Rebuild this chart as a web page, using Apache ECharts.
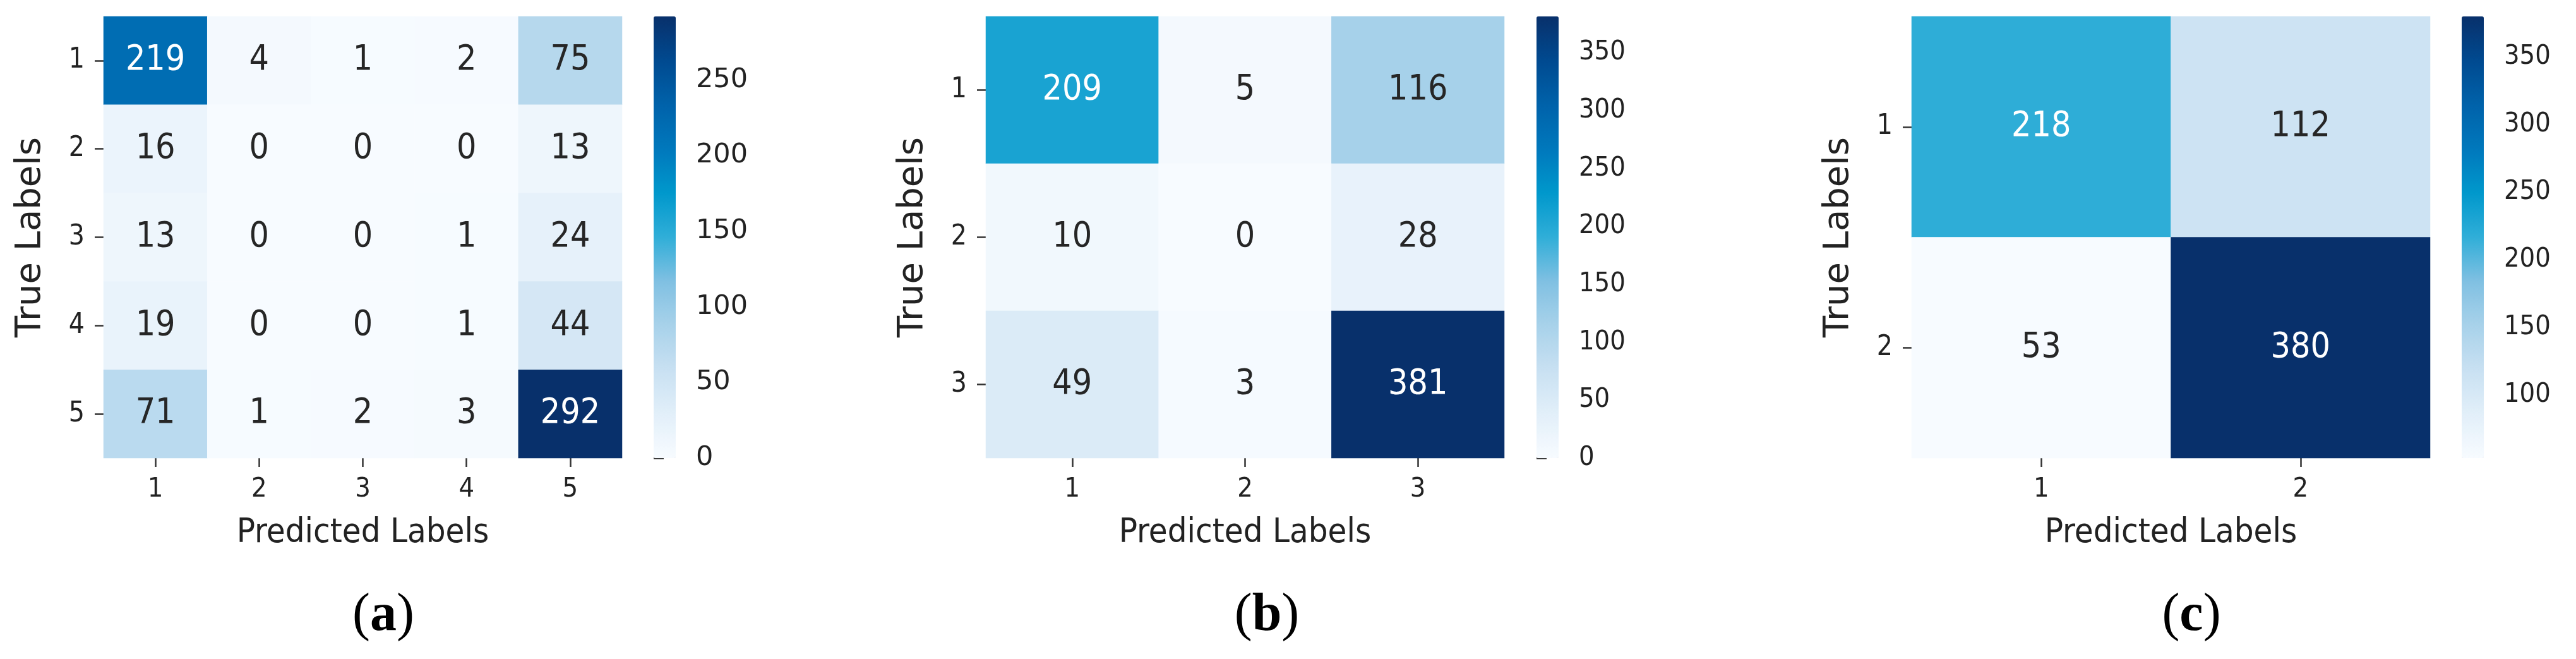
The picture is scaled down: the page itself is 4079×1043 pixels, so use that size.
<!DOCTYPE html>
<html><head><meta charset="utf-8">
<script src="https://cdn.jsdelivr.net/npm/echarts@6/dist/echarts.min.js"></script>
<style>html,body{margin:0;padding:0;background:#fff}#c{width:4079px;height:1043px}</style>
</head><body><div id="c"></div>
<script>
// ---- data ----
const labelsA = ['1', '2', '3', '4', '5'];
const matrixA = [
  [219, 4, 1, 2, 75],
  [16, 0, 0, 0, 13],
  [13, 0, 0, 1, 24],
  [19, 0, 0, 1, 44],
  [71, 1, 2, 3, 292]
];
const labelsB = ['1', '2', '3'];
const matrixB = [
  [209, 5, 116],
  [10, 0, 28],
  [49, 3, 381]
];
const labelsC = ['1', '2'];
const matrixC = [
  [218, 112],
  [53, 380]
];
const ticksA = [0, 50, 100, 150, 200, 250];
const ticksB = [0, 50, 100, 150, 200, 250, 300, 350];
const ticksC = [100, 150, 200, 250, 300, 350];
const panelLetters = ['a', 'b', 'c'];
const xTitle = 'Predicted Labels';
const yTitle = 'True Labels';

// ---- style ----
const blues = ['#f7fbff', '#e2eff9', '#c8e0f2', '#a8d2ea', '#80c0e2', '#30aed8',
               '#0098cc', '#0078bc', '#0062aa', '#004a90', '#08306b'];
const COND = "'DejaVu Sans Condensed', 'DejaVu Sans', sans-serif";
const REG = "'DejaVu Sans', sans-serif";
const TXT = '#222222';

const panels = [
  { labels: labelsA, matrix: matrixA, ticks: ticksA, left: 164, cb: 1035, cap: 607, cbFont: REG },
  { labels: labelsB, matrix: matrixB, ticks: ticksB, left: 1561, cb: 2433, cap: 2006, cbFont: COND },
  { labels: labelsC, matrix: matrixC, ticks: ticksC, left: 3027, cb: 3898, cap: 3470, cbFont: COND }
];
const TOP = 26, W = 821, H = 699, CBW = 35;

const grid = [], xAxis = [], yAxis = [], series = [], visualMap = [], graphic = [];

panels.forEach((p, i) => {
  const flat = p.matrix.flat();
  const vmin = Math.min(...flat), vmax = Math.max(...flat);
  grid[i] = { left: p.left, top: TOP, width: W, height: H };
  grid[i + 3] = { left: p.cb, top: TOP, width: CBW, height: H };
  const tickStyle = { show: true, alignWithLabel: true, length: 14, lineStyle: { color: '#333', width: 2.5 } };
  xAxis[i] = {
    type: 'category', gridIndex: i, data: p.labels, position: 'bottom',
    axisLine: { show: false }, axisTick: tickStyle, splitLine: { show: false },
    axisLabel: { fontSize: 43, margin: 28, color: TXT, fontFamily: COND },
    name: xTitle, nameLocation: 'middle', nameGap: 92,
    nameTextStyle: { fontSize: 54, color: TXT, fontFamily: COND }
  };
  yAxis[i] = {
    type: 'category', gridIndex: i, data: p.labels, inverse: true,
    axisLine: { show: false }, axisTick: tickStyle, splitLine: { show: false },
    axisLabel: { fontSize: 44, margin: 30, color: TXT, fontFamily: COND },
    name: yTitle, nameLocation: 'middle', nameRotate: 90, nameGap: 88,
    nameTextStyle: { fontSize: 56, color: TXT, fontFamily: REG }
  };
  xAxis[i + 3] = { type: 'value', gridIndex: i + 3, show: false, min: 0, max: 1 };
  yAxis[i + 3] = {
    type: 'value', gridIndex: i + 3, position: 'right', min: vmin, max: vmax,
    axisLine: { show: false }, splitLine: { show: false },
    axisTick: { show: true, length: 16, customValues: p.ticks, lineStyle: { color: '#333', width: 2.5 } },
    axisLabel: { customValues: p.ticks, margin: 32, fontSize: 43, color: TXT, fontFamily: p.cbFont }
  };
  const data = [];
  p.matrix.forEach((row, r) => row.forEach((v, c) => {
    const t = (v - vmin) / (vmax - vmin);
    data.push({ value: [c, r, v], label: { color: t > 0.45 ? '#ffffff' : '#262626' } });
  }));
  series.push({
    type: 'heatmap', xAxisIndex: i, yAxisIndex: i, data: data,
    label: { show: true, fontSize: 55, fontFamily: COND, formatter: (d) => String(d.value[2]) },
    emphasis: { disabled: true }, silent: true
  });
  visualMap.push({
    type: 'continuous', seriesIndex: i, min: vmin, max: vmax, calculable: false,
    orient: 'vertical', left: p.cb, top: TOP, itemWidth: CBW, itemHeight: H,
    padding: 0, text: null, hoverLink: false, inRange: { color: blues }
  });
  graphic.push({
    type: 'text', x: p.cap, y: 975,
    style: {
      text: '{p|(}{b|' + panelLetters[i] + '}{p|)}', align: 'center', verticalAlign: 'middle',
      rich: {
        p: { fontFamily: "'Liberation Serif', serif", fontSize: 84, fill: '#000' },
        b: { fontFamily: "'Liberation Serif', serif", fontSize: 84, fontWeight: 'bold', fill: '#000' }
      }
    }
  });
});

const chart = echarts.init(document.getElementById('c'));
chart.setOption({
  animation: false, backgroundColor: '#ffffff',
  grid, xAxis, yAxis, series, visualMap, graphic
});
</script>
</body></html>
